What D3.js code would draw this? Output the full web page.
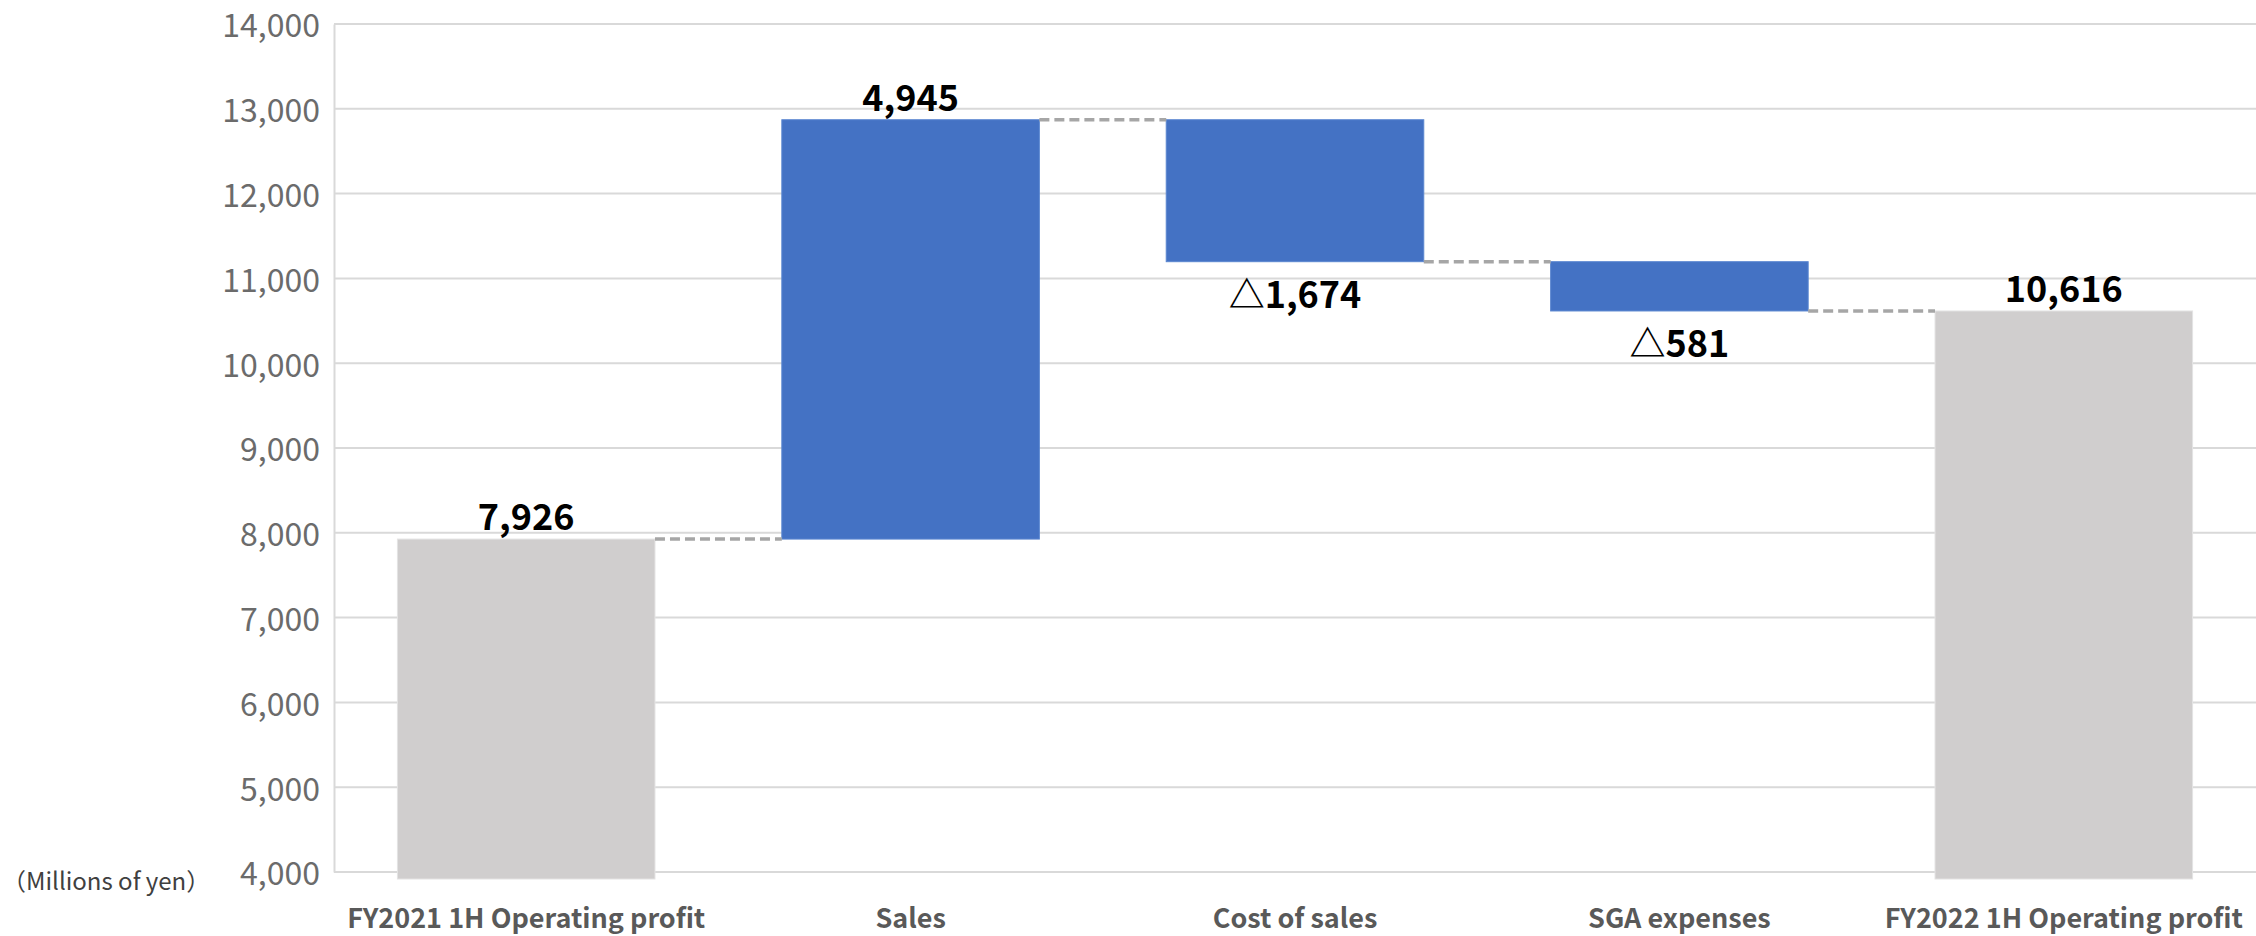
<!DOCTYPE html>
<html>
<head>
<meta charset="utf-8">
<script src="https://cdn.jsdelivr.net/npm/d3@7"></script>
<style>
  html, body { margin: 0; padding: 0; background: #fff; }
  svg text { font-family: "Noto Sans CJK JP", "Noto Sans", sans-serif; }
</style>
</head>
<body>
<div id="chart"></div>
<script>
var width = 2256,
    height = 936;
var margin = {top: 24, right: 0, bottom: 64, left: 334};

// data
var categories = ["FY2021 1H Operating profit", "Sales", "Cost of sales", "SGA expenses", "FY2022 1H Operating profit"];
var values = [7926, 4945, -1674, -581, 10616];
var kinds = ["total", "delta", "delta", "delta", "total"];
var yTicks = [4000, 5000, 6000, 7000, 8000, 9000, 10000, 11000, 12000, 13000, 14000];
var unitLabel = "（Millions of yen）";

var colors = {total: "#d0cece", delta: "#4472c4"};

// build the steps of the waterfall
var running = 0;
var steps = categories.map(function (c, i) {
    var v = values[i], lo, hi;
    if (kinds[i] === "total") {
        lo = yTicks[0]; hi = v; running = v;
    } else {
        var prev = running;
        running = prev + v;
        lo = Math.min(prev, running); hi = Math.max(prev, running);
    }
    return {cat: c, value: v, kind: kinds[i], lo: lo, hi: hi, end: running};
});

var fmt = d3.format(",");

var x = d3.scaleBand()
    .domain(categories)
    .range([margin.left, width - margin.right])
    .paddingInner(0.33)
    .paddingOuter(0.165);

var y = d3.scaleLinear()
    .domain([yTicks[0], yTicks[yTicks.length - 1]])
    .range([height - margin.bottom, margin.top]);

var svg = d3.select("#chart").append("svg")
    .attr("width", width)
    .attr("height", height);

// gridlines
svg.append("g")
    .attr("class", "grid")
    .selectAll("line")
    .data(yTicks)
    .enter().append("line")
    .attr("x1", margin.left)
    .attr("x2", width - margin.right)
    .attr("y1", function (d) { return y(d); })
    .attr("y2", function (d) { return y(d); })
    .attr("stroke", "#d9d9d9")
    .attr("stroke-width", 2);

// y axis
var yAxis = svg.append("g")
    .attr("transform", "translate(" + margin.left + ",0)")
    .call(d3.axisLeft(y).tickValues(yTicks).tickFormat(fmt).tickSize(0).tickPadding(14));
yAxis.select(".domain").attr("stroke", "#d9d9d9").attr("stroke-width", 2);
yAxis.selectAll("text")
    .attr("fill", "#6b6b6b")
    .attr("font-size", "32px")
    .attr("dy", "0.4em");

// bars
svg.append("g")
    .selectAll("rect")
    .data(steps)
    .enter().append("rect")
    .attr("x", function (d) { return x(d.cat); })
    .attr("width", x.bandwidth())
    .attr("y", function (d) { return y(d.hi); })
    .attr("height", function (d) {
        var h = y(d.lo) - y(d.hi);
        return d.kind === "total" ? h + 7 : h;
    })
    .attr("fill", function (d) { return colors[d.kind]; })
    .attr("stroke", function (d) { return d.kind === "total" ? "#e4e3e3" : "#5a86d0"; })
    .attr("stroke-width", 1);

// connectors
svg.append("g")
    .selectAll("line")
    .data(steps.slice(0, -1))
    .enter().append("line")
    .attr("x1", function (d) { return x(d.cat) + x.bandwidth(); })
    .attr("x2", function (d, i) { return x(categories[i + 1]); })
    .attr("y1", function (d) { return y(d.end); })
    .attr("y2", function (d) { return y(d.end); })
    .attr("stroke", "#a6a6a6")
    .attr("stroke-width", 3.5)
    .attr("stroke-dasharray", "10,5");

// value labels
svg.append("g")
    .selectAll("text")
    .data(steps)
    .enter().append("text")
    .attr("x", function (d) { return x(d.cat) + x.bandwidth() / 2; })
    .attr("y", function (d) { return d.value < 0 ? y(d.lo) + 46 : y(d.hi) - 9; })
    .attr("text-anchor", "middle")
    .attr("font-size", "36px")
    .attr("font-weight", "bold")
    .attr("fill", "#000")
    .text(function (d) { return d.value < 0 ? "△" + fmt(-d.value) : fmt(d.value); });

// category labels
svg.append("g")
    .selectAll("text")
    .data(categories)
    .enter().append("text")
    .attr("x", function (d) { return x(d) + x.bandwidth() / 2; })
    .attr("y", height - 8)
    .attr("text-anchor", "middle")
    .attr("font-size", "27px")
    .attr("font-weight", "bold")
    .attr("fill", "#595959")
    .text(function (d) { return d; });

// unit label
svg.append("text")
    .attr("x", 2)
    .attr("y", y(yTicks[0]) + 18)
    .attr("font-size", "24px")
    .attr("fill", "#404040")
    .text(unitLabel);
</script>
</body>
</html>
